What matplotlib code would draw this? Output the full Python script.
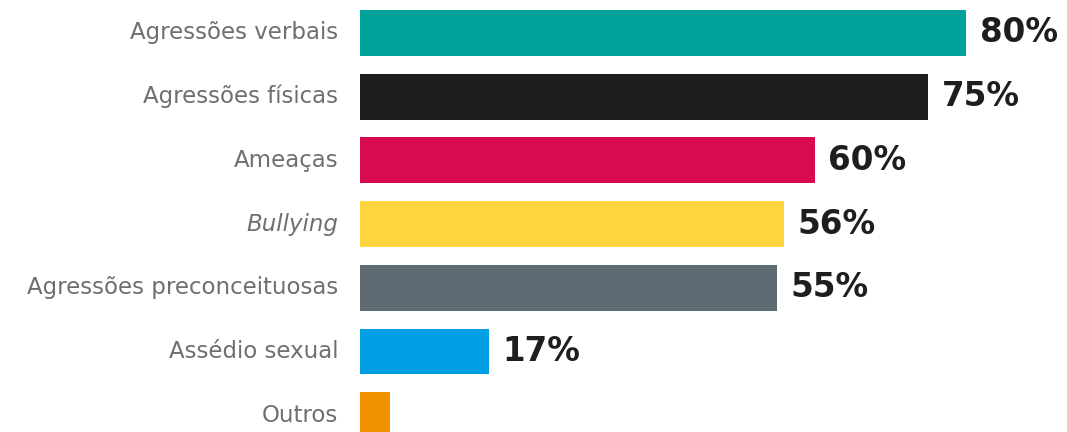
import matplotlib.pyplot as plt

# categories, top to bottom
categories = ["Agressões verbais", "Agressões físicas", "Ameaças", "Bullying",
              "Agressões preconceituosas", "Assédio sexual", "Outros"]
values = [80, 75, 60, 56, 55, 17, 4]
value_labels = ["80%", "75%", "60%", "56%", "55%", "17%", ""]
colors = ["#00A29A", "#1E1E1E", "#D80B50", "#FDD63F", "#5F6B72", "#009FE3", "#F39200"]

W, H = 1067, 432
fig = plt.figure(figsize=(W / 100, H / 100), dpi=100)
ax = fig.add_axes([360 / W, 0, 1 - 360 / W, 1])

ypos = list(range(len(categories)))
ax.barh(ypos, values, height=0.72, color=colors)

ax.set_xlim(0, 707 / 7.575)
ax.set_ylim(6.264, -0.518)
ax.axis("off")

for y, v, lab in zip(ypos, values, value_labels):
    if lab:
        ax.text(v + 1.8, y, lab, va="center", ha="left", fontsize=23.5,
                fontweight="bold", family="DejaVu Sans", color="#1E1E1E")

for y, cat in zip(ypos, categories):
    ax.text(-2.9, y, cat, va="center", ha="right", fontsize=16.5,
            family="DejaVu Sans", color="#6F6F6F",
            style="italic" if cat == "Bullying" else "normal")

fig.savefig("out.png", dpi=100)
